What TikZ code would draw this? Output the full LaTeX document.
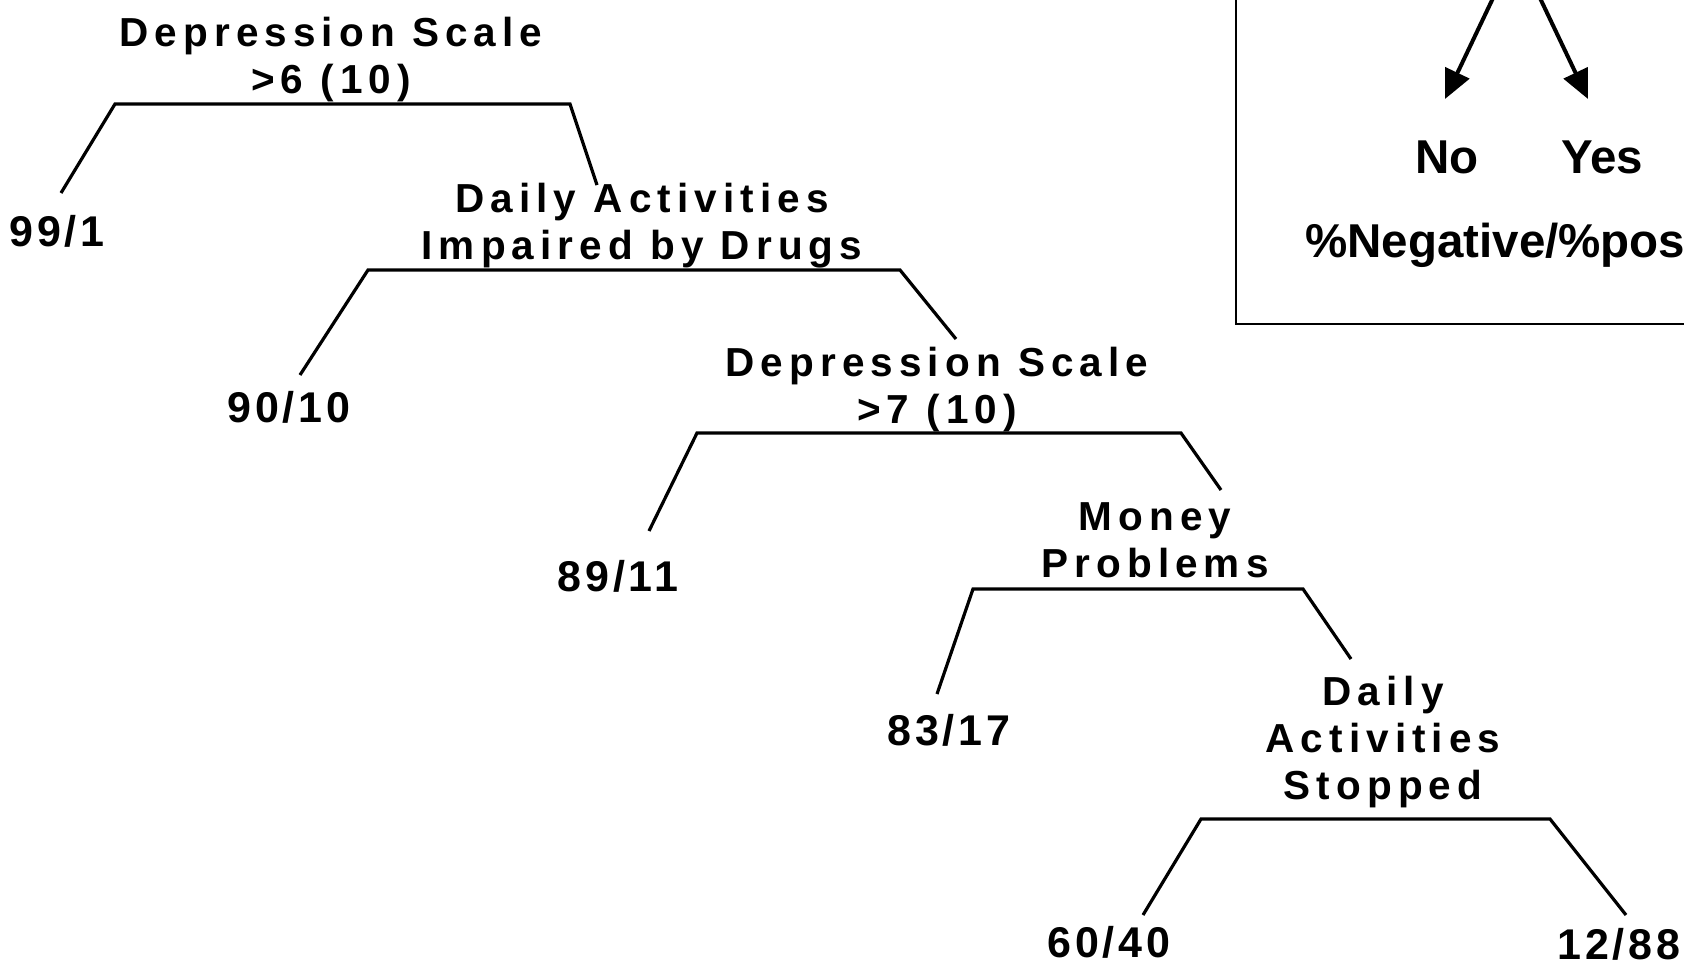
\documentclass[tikz,border=0pt]{standalone}
\usepackage{fontspec}
\setmainfont{Liberation Sans}
\newfontfamily\splitfont[LetterSpace=15]{Liberation Sans}
\newfontfamily\leaffont[LetterSpace=9]{Liberation Sans}
\usetikzlibrary{arrows.meta}

\begin{document}
\begin{tikzpicture}[x=1pt,y=-1pt,
  split/.style={font={\splitfont\bfseries\fontsize{40.5}{47}\selectfont}, align=center, inner sep=0pt, anchor=south},
  leaf/.style={font={\leaffont\bfseries\fontsize{43}{50}\selectfont}, inner sep=0pt, anchor=base},
  branch/.style={line width=3.2pt, line join=miter},
  legendtxt/.style={font={\bfseries\fontsize{47.5}{55}\selectfont}, inner sep=0pt, anchor=base},
  legarrow/.style={line width=4pt, -{Triangle[length=29pt,width=26pt]}}
]
\useasboundingbox (0,0) rectangle (1684,971);
\clip (0,0) rectangle (1684,971);

% split conditions
\node[split] (s1) at (331,102)  {Depression Scale\\>6 (10)};
\node[split] (s2) at (642,268)  {Daily Activities\\Impaired by Drugs};
\node[split] (s3) at (937,432)  {Depression Scale\\>7 (10)};
\node[split] (s4) at (1155,578) {Money\\Problems};
\node[split] (s5) at (1383,808) {Daily\\Activities\\Stopped};

% leaf percentages
\node[leaf] (l1) at (57,246)   {99/1};
\node[leaf] (l2) at (289,422)  {90/10};
\node[leaf] (l3) at (618,591)  {89/11};
\node[leaf] (l4) at (949,745)  {83/17};
\node[leaf] (l5) at (1109,957) {60/40};
\node[leaf] (l6) at (1619,959) {12/88};

% bar corners and branch ends
\coordinate (s1L) at (115,104);  \coordinate (s1R) at (570,104);
\coordinate (s2L) at (368,270);  \coordinate (s2R) at (900,270);
\coordinate (s3L) at (697,433);  \coordinate (s3R) at (1181,433);
\coordinate (s4L) at (973,589);  \coordinate (s4R) at (1303,589);
\coordinate (s5L) at (1201,819); \coordinate (s5R) at (1550,819);

\coordinate (l1e) at (61,193);   \coordinate (s2e) at (597,185);
\coordinate (l2e) at (300,375);  \coordinate (s3e) at (956,339);
\coordinate (l3e) at (649,531);  \coordinate (s4e) at (1221,490);
\coordinate (l4e) at (937,694);  \coordinate (s5e) at (1351,659);
\coordinate (l5e) at (1143,915); \coordinate (l6e) at (1626,915);

\draw[branch] (l1e) -- (s1L) -- (s1R) -- (s2e);
\draw[branch] (l2e) -- (s2L) -- (s2R) -- (s3e);
\draw[branch] (l3e) -- (s3L) -- (s3R) -- (s4e);
\draw[branch] (l4e) -- (s4L) -- (s4R) -- (s5e);
\draw[branch] (l5e) -- (s5L) -- (s5R) -- (l6e);

% key
\draw[line width=2pt] (1236,-20) rectangle (1740,324);
\node[legendtxt] (no)  at (1447,174) {No};
\node[legendtxt] (yes) at (1602,174) {Yes};
\node[legendtxt, anchor=base west] (key) at (1305,257) {\%Negative/\%positive};
\coordinate (srcL) at (1494,-4); \coordinate (tipL) at (1445,99);
\coordinate (srcR) at (1539,-4); \coordinate (tipR) at (1588,99);
\draw[legarrow] (srcL) -- (tipL);
\draw[legarrow] (srcR) -- (tipR);
\end{tikzpicture}
\end{document}
